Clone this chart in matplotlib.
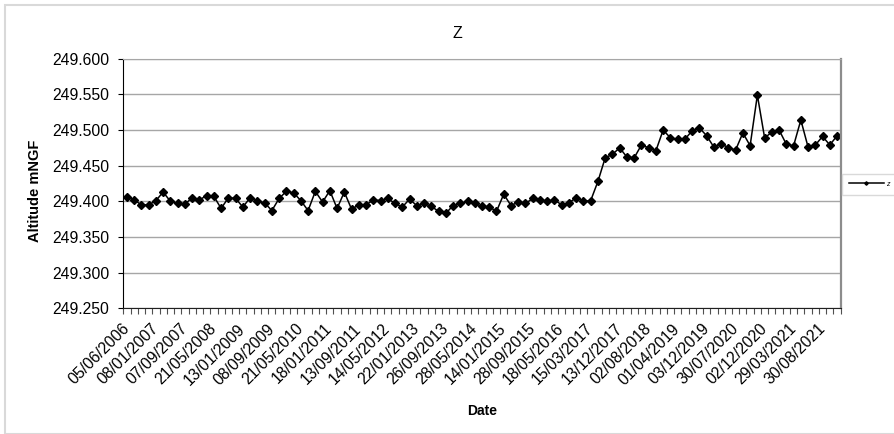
import matplotlib
matplotlib.use("Agg")
import matplotlib.pyplot as plt
from matplotlib.ticker import FixedLocator, FormatStrFormatter

plt.rcParams["font.family"] = ["Liberation Sans", "DejaVu Sans"]

# date labels shown on the category axis (every 4th survey)
tick_labels = [
    "05/06/2006", "08/01/2007", "07/09/2007", "21/05/2008", "13/01/2009",
    "08/09/2009", "21/05/2010", "18/01/2011", "13/09/2011", "14/05/2012",
    "22/01/2013", "26/09/2013", "28/05/2014", "14/01/2015", "28/09/2015",
    "18/05/2016", "15/03/2017", "13/12/2017", "02/08/2018", "01/04/2019",
    "03/12/2019", "30/07/2020", "02/12/2020", "29/03/2021", "30/08/2021",
]

# altitude Z (m NGF), one value per survey
z = [
    249.406, 249.402, 249.395, 249.395, 249.401, 249.413, 249.400, 249.397, 249.396, 249.405,
    249.402, 249.408, 249.407, 249.390, 249.405, 249.404, 249.392, 249.405, 249.400, 249.398,
    249.387, 249.404, 249.414, 249.412, 249.401, 249.387, 249.414, 249.399, 249.415, 249.390,
    249.413, 249.389, 249.395, 249.395, 249.402, 249.401, 249.404, 249.397, 249.392, 249.403,
    249.394, 249.397, 249.393, 249.386, 249.383, 249.394, 249.397, 249.400, 249.397, 249.393,
    249.392, 249.386, 249.410, 249.394, 249.399, 249.397, 249.404, 249.402, 249.400, 249.402,
    249.395, 249.398, 249.405, 249.400, 249.401, 249.428, 249.461, 249.466, 249.475, 249.462,
    249.461, 249.479, 249.475, 249.471, 249.500, 249.489, 249.487, 249.487, 249.499, 249.503,
    249.492, 249.476, 249.481, 249.475, 249.472, 249.496, 249.478, 249.549, 249.489, 249.497,
    249.500, 249.480, 249.478, 249.514, 249.476, 249.479, 249.491, 249.479, 249.492,
]

x = list(range(len(z)))

fig = plt.figure(figsize=(8.94, 4.34), dpi=100)
ax = fig.add_axes([123.3 / 894, 1 - 308.3 / 434, 717.4 / 894, 249.6 / 434])

# chart area border
fig.patches.append(plt.Rectangle((5 / 894, 0), 1, 1 - 5 / 434, transform=fig.transFigure,
                                 fill=False, edgecolor="#d9d9d9", linewidth=1.5))

ax.plot(x, z, color="black", linewidth=1.1, marker="D", markersize=3.9, label="z")

ax.set_xlim(-0.5, len(z) - 0.5)
ax.set_ylim(249.25, 249.6)
ax.set_yticks([249.25 + 0.05 * i for i in range(8)])
ax.yaxis.set_major_formatter(FormatStrFormatter("%.3f"))
ax.grid(axis="y", color="#a6a6a6", linewidth=1.0)
ax.set_axisbelow(True)

ax.set_xticks(x[::4])
ax.set_xticklabels(tick_labels, rotation=45, ha="right", va="center", rotation_mode="anchor")
ax.xaxis.set_minor_locator(FixedLocator([i - 0.5 for i in range(len(z) + 1)]))
ax.tick_params(axis="x", which="major", length=0, pad=13, labelsize=11.3)
ax.tick_params(axis="x", which="minor", length=4, width=0.8, color="#505050")
ax.tick_params(axis="y", length=3.6, width=0.8, pad=6.5, labelsize=11.3)

ax.spines["left"].set_color("black")
ax.spines["bottom"].set_color("#202020")
ax.spines["top"].set_color("#a6a6a6")
ax.spines["right"].set_color("#8c8c8c")
ax.spines["right"].set_linewidth(1.6)

ax.set_ylabel("Altitude mNGF", fontsize=10.5, fontweight="bold", va="center")
ax.yaxis.set_label_coords((35 - 123.3) / 717.4, (308.3 - 191) / 249.6)
ax.set_xlabel("Date", fontsize=10, fontweight="bold", va="center")
ax.xaxis.set_label_coords(0.5, (308.3 - 411) / 249.6)

fig.text(457 / 894, 1 - 33 / 434, "Z", fontsize=11.5, ha="center", va="center")

leg = ax.legend(loc="center left", bbox_to_anchor=(842 / 894, 1 - 184.3 / 434),
                bbox_transform=fig.transFigure, fontsize=5, handlelength=5.0,
                markerscale=0.45, frameon=True, fancybox=False, borderpad=1.0,
                handletextpad=0.3, borderaxespad=0)
leg.get_frame().set_edgecolor("#d0d0d0")
leg.get_frame().set_linewidth(1.0)
for t in leg.get_texts():
    t.set_fontstyle("italic")

fig.savefig("out.png", dpi=100)
